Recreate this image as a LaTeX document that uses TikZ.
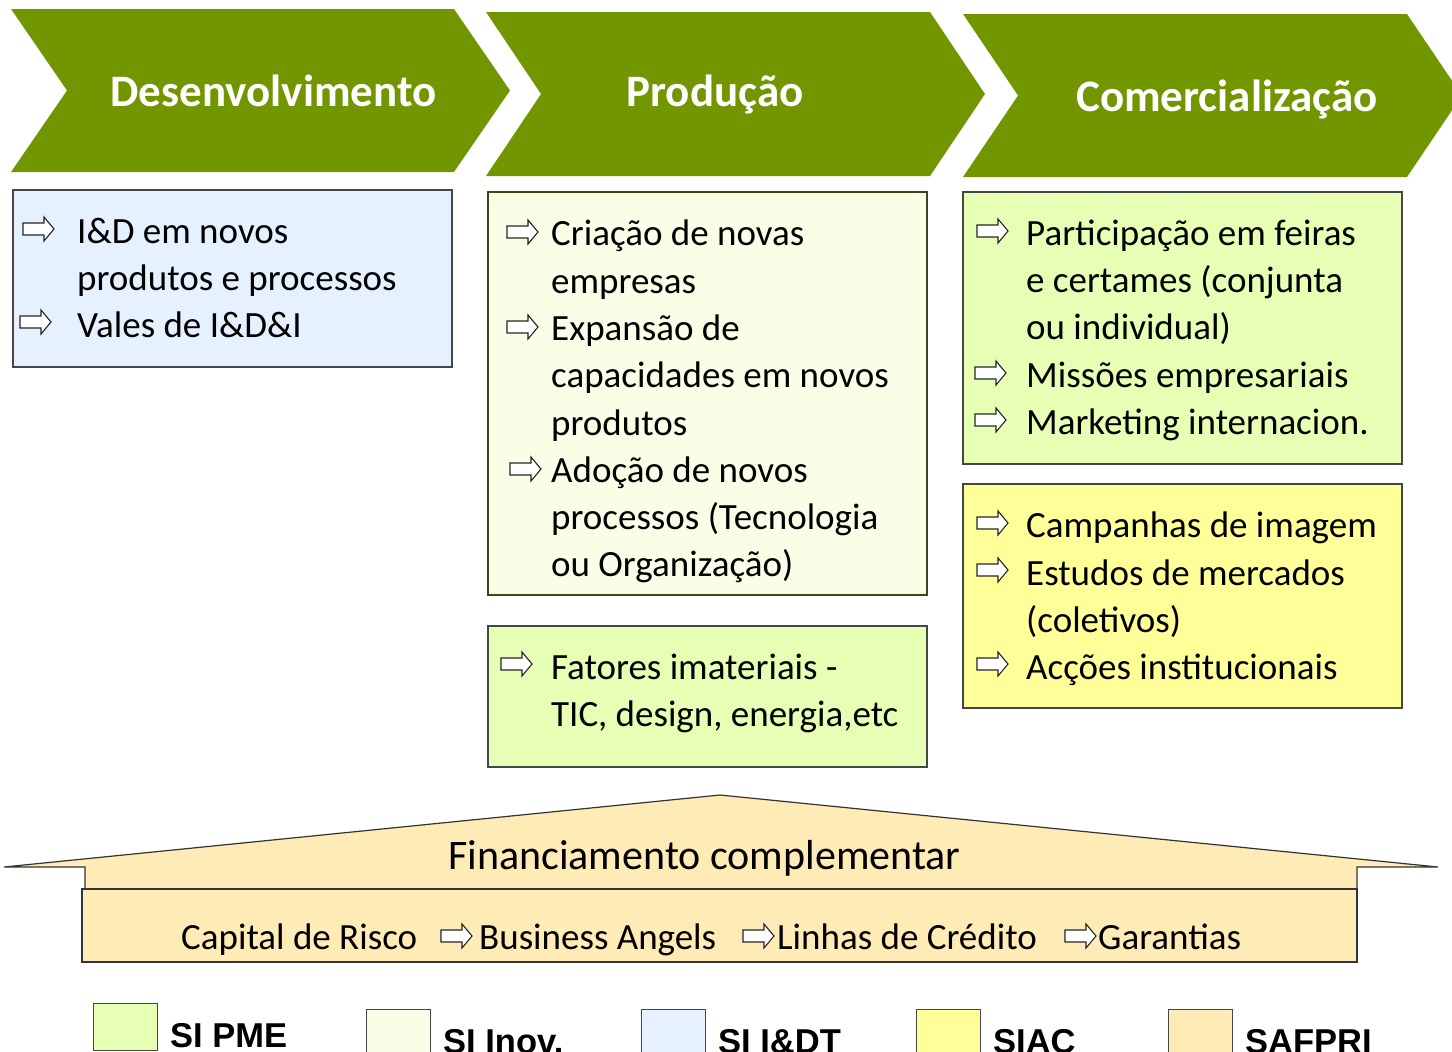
\documentclass[tikz,border=0pt]{standalone}
\usepackage{fontspec}
\setmainfont{Carlito}
\newfontfamily\legfont{Liberation Sans}
\definecolor{chev}{RGB}{113,150,0}
\definecolor{sipme}{RGB}{230,255,180}
\definecolor{siinov}{RGB}{248,255,230}
\definecolor{siidt}{RGB}{229,241,255}
\definecolor{siac}{RGB}{255,255,153}
\definecolor{safpri}{RGB}{255,235,181}
\definecolor{boxline}{RGB}{70,70,70}
\definecolor{oliveline}{RGB}{60,72,20}
\tikzset{
  chevshape/.style={fill=chev, draw=none},
  title/.style={font=\fontsize{45}{54}\selectfont\bfseries, text=white, anchor=base, inner sep=0},
  body/.style={font=\fontsize{37}{47.3}\selectfont, align=left, inner sep=0, anchor=north west, text=black},
  rowtext/.style={font=\fontsize{37}{47.3}\selectfont, inner sep=0, anchor=base west, text=black},
  fintext/.style={font=\fontsize{42}{50}\selectfont, inner sep=0, anchor=base, text=black},
  legtext/.style={font=\legfont\bfseries\fontsize{34.5}{40}\selectfont, inner sep=0, anchor=base west, text=black},
  panel/.style={draw=boxline, line width=1.2pt},
  legbox/.style={draw=boxline, line width=1pt},
  arrowline/.style={draw=black!85, fill=white, line width=1.1pt, line join=miter},
  warrow/.pic={\path[arrowline] (0,-6) -- (21,-6) -- (21,-12) -- (31,0) -- (21,12) -- (21,6) -- (0,6) -- cycle;}
}
\begin{document}
\begin{tikzpicture}[x=1pt,y=-1pt]
\useasboundingbox (0,0) rectangle (1452,1052);
\clip (0,0) rectangle (1452,1052);
\fill[white] (0,0) rectangle (1452,1052);

% chevrons
\path[chevshape] (11,9) -- (454,9) -- (510,90.5) -- (454,172) -- (11,172) -- (67,90.5) -- cycle;
\path[chevshape] (486,12) -- (930,12) -- (985,94) -- (930,176) -- (486,176) -- (541,94) -- cycle;
\path[chevshape] (963,14) -- (1407,14) -- (1462,95.5) -- (1407,177) -- (963,177) -- (1018,95.5) -- cycle;
\node[title] (t1) at (273.5,106) {Desenvolvimento};
\node[title] (t2) at (715,106) {Produção};
\node[title] (t3) at (1227,111) {Comercialização};

% panels
\path[panel, fill=siidt] (13,190) rectangle (452,367);
\path[panel, draw=oliveline, fill=siinov] (488,192) rectangle (927,595);
\path[panel, fill=sipme] (488,626) rectangle (927,767);
\path[panel, fill=sipme] (963,192) rectangle (1402,464);
\path[panel, fill=siac] (963,484) rectangle (1402,708);

% panel texts
\node[body] (b1) at (77,210) {\strut I\&D em novos\\\strut produtos e processos\\\strut Vales de I\&D\&I};
\node[body] (b2) at (551,212.5) {\strut Criação de novas\\\strut empresas\\\strut Expansão de\\\strut capacidades em novos\\\strut produtos\\\strut Adoção de novos\\\strut processos (Tecnologia\\\strut ou Organização)};
\node[body] (b3) at (551,646) {\strut Fatores imateriais -\\\strut TIC, design, energia,etc};
\node[body] (b4) at (1026,212) {\strut Participação em feiras\\\strut e certames (conjunta\\\strut ou individual)\\\strut Missões empresariais\\\strut Marketing internacion.};
\node[body] (b5) at (1026,504.5) {\strut Campanhas de imagem\\\strut Estudos de mercados\\\strut (coletivos)\\\strut Acções institucionais};

% bullet arrows
\pic at (23,229) {warrow};
\pic at (20,322) {warrow};
\pic at (507,232) {warrow};
\pic at (507,327) {warrow};
\pic at (510,469) {warrow};
\pic at (501,664) {warrow};
\pic at (977,231) {warrow};
\pic at (975,373) {warrow};
\pic at (975,420) {warrow};
\pic at (977,523) {warrow};
\pic at (977,570) {warrow};
\pic at (977,664) {warrow};

% roof
\path[draw=black!80, line width=1.2pt, fill=safpri, line join=miter]
  (4,867) -- (720,795) -- (1438,867) -- (1357,867) -- (1357,889) -- (85,889) -- (85,867) -- cycle;
\path[draw=black!80, line width=1.2pt, fill=safpri] (82,889) rectangle (1357,962);
\node[fintext] (fin) at (704.5,869) {Financiamento complementar};
\node[rowtext] (cr) at (181,949) {Capital de Risco};
\node[rowtext] (ba) at (479,949) {Business Angels};
\node[rowtext] (lc) at (777,949) {Linhas de Crédito};
\node[rowtext] (ga) at (1098,949) {Garantias};
\pic at (441,936) {warrow};
\pic at (743,936) {warrow};
\pic at (1065,936) {warrow};

% legend
\path[legbox, fill=sipme] (93,1003) rectangle (157,1050);
\path[legbox, fill=siinov] (366,1009) rectangle (430,1070);
\path[legbox, fill=siidt] (641,1009) rectangle (705,1070);
\path[legbox, fill=siac] (916,1009) rectangle (980,1070);
\path[legbox, fill=safpri] (1168,1009) rectangle (1232,1070);
\node[legtext] (l1) at (170,1047) {SI PME};
\node[legtext] (l2) at (443,1053) {SI Inov.};
\node[legtext] (l3) at (718,1053) {SI I\&DT};
\node[legtext] (l4) at (993,1053) {SIAC};
\node[legtext] (l5) at (1245,1053) {SAFPRI};
\end{tikzpicture}
\end{document}
